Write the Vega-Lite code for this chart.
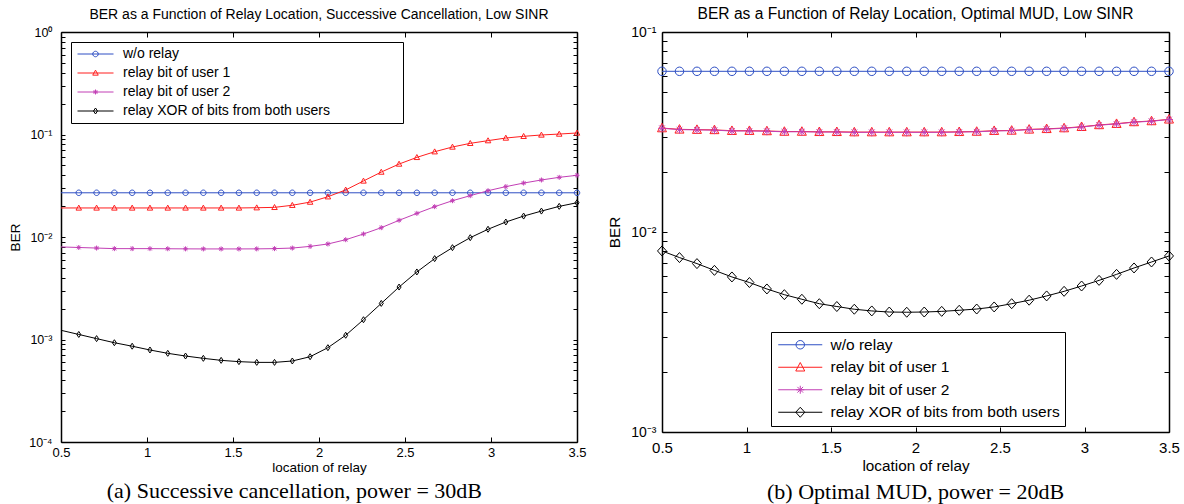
{
  "$schema": "https://vega.github.io/schema/vega-lite/v6.json",
  "background": "white",
  "padding": {"left": 8, "top": 7, "right": 5, "bottom": 0},
  "spacing": 20,
  "config": {
    "view": {"stroke": null},
    "axis": {"grid": false, "domainColor": "#000", "domainWidth": 1.5, "tickColor": "#000", "tickWidth": 1, "labelColor": "#000", "titleColor": "#000", "labelFont": "Liberation Sans", "titleFont": "Liberation Sans", "titleFontWeight": "normal", "labelFlush": false, "labelOverlap": false},
    "title": {"font": "Liberation Sans", "fontWeight": "normal", "color": "#000"}
  },
  "datasets": {
    "left": [
      {"series": "w/o relay", "x": 0.5, "ber": 0.027}, {"series": "w/o relay", "x": 0.6034, "ber": 0.027}, {"series": "w/o relay", "x": 0.7069, "ber": 0.027}, {"series": "w/o relay", "x": 0.8103, "ber": 0.027}, {"series": "w/o relay", "x": 0.9138, "ber": 0.027}, {"series": "w/o relay", "x": 1.0172, "ber": 0.027}, {"series": "w/o relay", "x": 1.1207, "ber": 0.027}, {"series": "w/o relay", "x": 1.2241, "ber": 0.027}, {"series": "w/o relay", "x": 1.3276, "ber": 0.027}, {"series": "w/o relay", "x": 1.431, "ber": 0.027}, {"series": "w/o relay", "x": 1.5345, "ber": 0.027}, {"series": "w/o relay", "x": 1.6379, "ber": 0.027}, {"series": "w/o relay", "x": 1.7414, "ber": 0.027}, {"series": "w/o relay", "x": 1.8448, "ber": 0.027}, {"series": "w/o relay", "x": 1.9483, "ber": 0.027}, {"series": "w/o relay", "x": 2.0517, "ber": 0.027}, {"series": "w/o relay", "x": 2.1552, "ber": 0.027}, {"series": "w/o relay", "x": 2.2586, "ber": 0.027}, {"series": "w/o relay", "x": 2.3621, "ber": 0.027}, {"series": "w/o relay", "x": 2.4655, "ber": 0.027}, {"series": "w/o relay", "x": 2.569, "ber": 0.027}, {"series": "w/o relay", "x": 2.6724, "ber": 0.027}, {"series": "w/o relay", "x": 2.7759, "ber": 0.027}, {"series": "w/o relay", "x": 2.8793, "ber": 0.027}, {"series": "w/o relay", "x": 2.9828, "ber": 0.027}, {"series": "w/o relay", "x": 3.0862, "ber": 0.027}, {"series": "w/o relay", "x": 3.1897, "ber": 0.027}, {"series": "w/o relay", "x": 3.2931, "ber": 0.027}, {"series": "w/o relay", "x": 3.3966, "ber": 0.027}, {"series": "w/o relay", "x": 3.5, "ber": 0.027},
      {"series": "relay bit of user 1", "x": 0.5, "ber": 0.0192}, {"series": "relay bit of user 1", "x": 0.6034, "ber": 0.0192}, {"series": "relay bit of user 1", "x": 0.7069, "ber": 0.0192}, {"series": "relay bit of user 1", "x": 0.8103, "ber": 0.0192}, {"series": "relay bit of user 1", "x": 0.9138, "ber": 0.0192}, {"series": "relay bit of user 1", "x": 1.0172, "ber": 0.0192}, {"series": "relay bit of user 1", "x": 1.1207, "ber": 0.0192}, {"series": "relay bit of user 1", "x": 1.2241, "ber": 0.0192}, {"series": "relay bit of user 1", "x": 1.3276, "ber": 0.0192}, {"series": "relay bit of user 1", "x": 1.431, "ber": 0.0192}, {"series": "relay bit of user 1", "x": 1.5345, "ber": 0.0192}, {"series": "relay bit of user 1", "x": 1.6379, "ber": 0.0193}, {"series": "relay bit of user 1", "x": 1.7414, "ber": 0.01946}, {"series": "relay bit of user 1", "x": 1.8448, "ber": 0.0204}, {"series": "relay bit of user 1", "x": 1.9483, "ber": 0.0219}, {"series": "relay bit of user 1", "x": 2.0517, "ber": 0.0247}, {"series": "relay bit of user 1", "x": 2.1552, "ber": 0.0288}, {"series": "relay bit of user 1", "x": 2.2586, "ber": 0.0352}, {"series": "relay bit of user 1", "x": 2.3621, "ber": 0.043}, {"series": "relay bit of user 1", "x": 2.4655, "ber": 0.0515}, {"series": "relay bit of user 1", "x": 2.569, "ber": 0.0598}, {"series": "relay bit of user 1", "x": 2.6724, "ber": 0.0679}, {"series": "relay bit of user 1", "x": 2.7759, "ber": 0.0755}, {"series": "relay bit of user 1", "x": 2.8793, "ber": 0.082}, {"series": "relay bit of user 1", "x": 2.9828, "ber": 0.0871}, {"series": "relay bit of user 1", "x": 3.0862, "ber": 0.0924}, {"series": "relay bit of user 1", "x": 3.1897, "ber": 0.096}, {"series": "relay bit of user 1", "x": 3.2931, "ber": 0.0989}, {"series": "relay bit of user 1", "x": 3.3966, "ber": 0.101}, {"series": "relay bit of user 1", "x": 3.5, "ber": 0.1035},
      {"series": "relay bit of user 2", "x": 0.5, "ber": 0.008}, {"series": "relay bit of user 2", "x": 0.6034, "ber": 0.0079}, {"series": "relay bit of user 2", "x": 0.7069, "ber": 0.0078}, {"series": "relay bit of user 2", "x": 0.8103, "ber": 0.0077}, {"series": "relay bit of user 2", "x": 0.9138, "ber": 0.0077}, {"series": "relay bit of user 2", "x": 1.0172, "ber": 0.0077}, {"series": "relay bit of user 2", "x": 1.1207, "ber": 0.00768}, {"series": "relay bit of user 2", "x": 1.2241, "ber": 0.00766}, {"series": "relay bit of user 2", "x": 1.3276, "ber": 0.00765}, {"series": "relay bit of user 2", "x": 1.431, "ber": 0.00765}, {"series": "relay bit of user 2", "x": 1.5345, "ber": 0.00765}, {"series": "relay bit of user 2", "x": 1.6379, "ber": 0.00766}, {"series": "relay bit of user 2", "x": 1.7414, "ber": 0.0077}, {"series": "relay bit of user 2", "x": 1.8448, "ber": 0.0078}, {"series": "relay bit of user 2", "x": 1.9483, "ber": 0.0081}, {"series": "relay bit of user 2", "x": 2.0517, "ber": 0.00855}, {"series": "relay bit of user 2", "x": 2.1552, "ber": 0.00941}, {"series": "relay bit of user 2", "x": 2.2586, "ber": 0.0107}, {"series": "relay bit of user 2", "x": 2.3621, "ber": 0.01233}, {"series": "relay bit of user 2", "x": 2.4655, "ber": 0.01455}, {"series": "relay bit of user 2", "x": 2.569, "ber": 0.017}, {"series": "relay bit of user 2", "x": 2.6724, "ber": 0.01977}, {"series": "relay bit of user 2", "x": 2.7759, "ber": 0.0226}, {"series": "relay bit of user 2", "x": 2.8793, "ber": 0.0253}, {"series": "relay bit of user 2", "x": 2.9828, "ber": 0.0283}, {"series": "relay bit of user 2", "x": 3.0862, "ber": 0.031}, {"series": "relay bit of user 2", "x": 3.1897, "ber": 0.0336}, {"series": "relay bit of user 2", "x": 3.2931, "ber": 0.036}, {"series": "relay bit of user 2", "x": 3.3966, "ber": 0.0382}, {"series": "relay bit of user 2", "x": 3.5, "ber": 0.04},
      {"series": "relay XOR of bits from both users", "x": 0.5, "ber": 0.00123}, {"series": "relay XOR of bits from both users", "x": 0.6034, "ber": 0.00112}, {"series": "relay XOR of bits from both users", "x": 0.7069, "ber": 0.00102}, {"series": "relay XOR of bits from both users", "x": 0.8103, "ber": 0.00093}, {"series": "relay XOR of bits from both users", "x": 0.9138, "ber": 0.00086}, {"series": "relay XOR of bits from both users", "x": 1.0172, "ber": 0.00079}, {"series": "relay XOR of bits from both users", "x": 1.1207, "ber": 0.000733}, {"series": "relay XOR of bits from both users", "x": 1.2241, "ber": 0.00069}, {"series": "relay XOR of bits from both users", "x": 1.3276, "ber": 0.000655}, {"series": "relay XOR of bits from both users", "x": 1.431, "ber": 0.000626}, {"series": "relay XOR of bits from both users", "x": 1.5345, "ber": 0.000608}, {"series": "relay XOR of bits from both users", "x": 1.6379, "ber": 0.000598}, {"series": "relay XOR of bits from both users", "x": 1.7414, "ber": 0.000598}, {"series": "relay XOR of bits from both users", "x": 1.8448, "ber": 0.000617}, {"series": "relay XOR of bits from both users", "x": 1.9483, "ber": 0.000679}, {"series": "relay XOR of bits from both users", "x": 2.0517, "ber": 0.000832}, {"series": "relay XOR of bits from both users", "x": 2.1552, "ber": 0.0011}, {"series": "relay XOR of bits from both users", "x": 2.2586, "ber": 0.00156}, {"series": "relay XOR of bits from both users", "x": 2.3621, "ber": 0.00225}, {"series": "relay XOR of bits from both users", "x": 2.4655, "ber": 0.00325}, {"series": "relay XOR of bits from both users", "x": 2.569, "ber": 0.00456}, {"series": "relay XOR of bits from both users", "x": 2.6724, "ber": 0.00615}, {"series": "relay XOR of bits from both users", "x": 2.7759, "ber": 0.00787}, {"series": "relay XOR of bits from both users", "x": 2.8793, "ber": 0.00985}, {"series": "relay XOR of bits from both users", "x": 2.9828, "ber": 0.0119}, {"series": "relay XOR of bits from both users", "x": 3.0862, "ber": 0.014}, {"series": "relay XOR of bits from both users", "x": 3.1897, "ber": 0.016}, {"series": "relay XOR of bits from both users", "x": 3.2931, "ber": 0.0179}, {"series": "relay XOR of bits from both users", "x": 3.3966, "ber": 0.0199}, {"series": "relay XOR of bits from both users", "x": 3.5, "ber": 0.0216}
    ],
    "right": [
      {"series": "w/o relay", "x": 0.5, "ber": 0.0636}, {"series": "w/o relay", "x": 0.6034, "ber": 0.0636}, {"series": "w/o relay", "x": 0.7069, "ber": 0.0636}, {"series": "w/o relay", "x": 0.8103, "ber": 0.0636}, {"series": "w/o relay", "x": 0.9138, "ber": 0.0636}, {"series": "w/o relay", "x": 1.0172, "ber": 0.0636}, {"series": "w/o relay", "x": 1.1207, "ber": 0.0636}, {"series": "w/o relay", "x": 1.2241, "ber": 0.0636}, {"series": "w/o relay", "x": 1.3276, "ber": 0.0636}, {"series": "w/o relay", "x": 1.431, "ber": 0.0636}, {"series": "w/o relay", "x": 1.5345, "ber": 0.0636}, {"series": "w/o relay", "x": 1.6379, "ber": 0.0636}, {"series": "w/o relay", "x": 1.7414, "ber": 0.0636}, {"series": "w/o relay", "x": 1.8448, "ber": 0.0636}, {"series": "w/o relay", "x": 1.9483, "ber": 0.0636}, {"series": "w/o relay", "x": 2.0517, "ber": 0.0636}, {"series": "w/o relay", "x": 2.1552, "ber": 0.0636}, {"series": "w/o relay", "x": 2.2586, "ber": 0.0636}, {"series": "w/o relay", "x": 2.3621, "ber": 0.0636}, {"series": "w/o relay", "x": 2.4655, "ber": 0.0636}, {"series": "w/o relay", "x": 2.569, "ber": 0.0636}, {"series": "w/o relay", "x": 2.6724, "ber": 0.0636}, {"series": "w/o relay", "x": 2.7759, "ber": 0.0636}, {"series": "w/o relay", "x": 2.8793, "ber": 0.0636}, {"series": "w/o relay", "x": 2.9828, "ber": 0.0636}, {"series": "w/o relay", "x": 3.0862, "ber": 0.0636}, {"series": "w/o relay", "x": 3.1897, "ber": 0.0636}, {"series": "w/o relay", "x": 3.2931, "ber": 0.0636}, {"series": "w/o relay", "x": 3.3966, "ber": 0.0636}, {"series": "w/o relay", "x": 3.5, "ber": 0.0636},
      {"series": "relay bit of user 1", "x": 0.5, "ber": 0.0331}, {"series": "relay bit of user 1", "x": 0.6034, "ber": 0.0326}, {"series": "relay bit of user 1", "x": 0.7069, "ber": 0.0325}, {"series": "relay bit of user 1", "x": 0.8103, "ber": 0.0324}, {"series": "relay bit of user 1", "x": 0.9138, "ber": 0.0321}, {"series": "relay bit of user 1", "x": 1.0172, "ber": 0.0321}, {"series": "relay bit of user 1", "x": 1.1207, "ber": 0.032}, {"series": "relay bit of user 1", "x": 1.2241, "ber": 0.0318}, {"series": "relay bit of user 1", "x": 1.3276, "ber": 0.0318}, {"series": "relay bit of user 1", "x": 1.431, "ber": 0.0317}, {"series": "relay bit of user 1", "x": 1.5345, "ber": 0.0317}, {"series": "relay bit of user 1", "x": 1.6379, "ber": 0.0316}, {"series": "relay bit of user 1", "x": 1.7414, "ber": 0.0316}, {"series": "relay bit of user 1", "x": 1.8448, "ber": 0.0316}, {"series": "relay bit of user 1", "x": 1.9483, "ber": 0.0316}, {"series": "relay bit of user 1", "x": 2.0517, "ber": 0.0316}, {"series": "relay bit of user 1", "x": 2.1552, "ber": 0.0316}, {"series": "relay bit of user 1", "x": 2.2586, "ber": 0.0317}, {"series": "relay bit of user 1", "x": 2.3621, "ber": 0.0318}, {"series": "relay bit of user 1", "x": 2.4655, "ber": 0.0321}, {"series": "relay bit of user 1", "x": 2.569, "ber": 0.0322}, {"series": "relay bit of user 1", "x": 2.6724, "ber": 0.0326}, {"series": "relay bit of user 1", "x": 2.7759, "ber": 0.0328}, {"series": "relay bit of user 1", "x": 2.8793, "ber": 0.0331}, {"series": "relay bit of user 1", "x": 2.9828, "ber": 0.0336}, {"series": "relay bit of user 1", "x": 3.0862, "ber": 0.0343}, {"series": "relay bit of user 1", "x": 3.1897, "ber": 0.0348}, {"series": "relay bit of user 1", "x": 3.2931, "ber": 0.0355}, {"series": "relay bit of user 1", "x": 3.3966, "ber": 0.0359}, {"series": "relay bit of user 1", "x": 3.5, "ber": 0.0366},
      {"series": "relay bit of user 2", "x": 0.5, "ber": 0.033}, {"series": "relay bit of user 2", "x": 0.6034, "ber": 0.0325}, {"series": "relay bit of user 2", "x": 0.7069, "ber": 0.0324}, {"series": "relay bit of user 2", "x": 0.8103, "ber": 0.0323}, {"series": "relay bit of user 2", "x": 0.9138, "ber": 0.032}, {"series": "relay bit of user 2", "x": 1.0172, "ber": 0.032}, {"series": "relay bit of user 2", "x": 1.1207, "ber": 0.0319}, {"series": "relay bit of user 2", "x": 1.2241, "ber": 0.0317}, {"series": "relay bit of user 2", "x": 1.3276, "ber": 0.0317}, {"series": "relay bit of user 2", "x": 1.431, "ber": 0.0316}, {"series": "relay bit of user 2", "x": 1.5345, "ber": 0.0316}, {"series": "relay bit of user 2", "x": 1.6379, "ber": 0.0315}, {"series": "relay bit of user 2", "x": 1.7414, "ber": 0.0315}, {"series": "relay bit of user 2", "x": 1.8448, "ber": 0.0315}, {"series": "relay bit of user 2", "x": 1.9483, "ber": 0.0315}, {"series": "relay bit of user 2", "x": 2.0517, "ber": 0.0315}, {"series": "relay bit of user 2", "x": 2.1552, "ber": 0.0315}, {"series": "relay bit of user 2", "x": 2.2586, "ber": 0.0316}, {"series": "relay bit of user 2", "x": 2.3621, "ber": 0.0317}, {"series": "relay bit of user 2", "x": 2.4655, "ber": 0.032}, {"series": "relay bit of user 2", "x": 2.569, "ber": 0.0321}, {"series": "relay bit of user 2", "x": 2.6724, "ber": 0.0325}, {"series": "relay bit of user 2", "x": 2.7759, "ber": 0.0327}, {"series": "relay bit of user 2", "x": 2.8793, "ber": 0.033}, {"series": "relay bit of user 2", "x": 2.9828, "ber": 0.0335}, {"series": "relay bit of user 2", "x": 3.0862, "ber": 0.0342}, {"series": "relay bit of user 2", "x": 3.1897, "ber": 0.0347}, {"series": "relay bit of user 2", "x": 3.2931, "ber": 0.0354}, {"series": "relay bit of user 2", "x": 3.3966, "ber": 0.0358}, {"series": "relay bit of user 2", "x": 3.5, "ber": 0.0365},
      {"series": "relay XOR of bits from both users", "x": 0.5, "ber": 0.00804}, {"series": "relay XOR of bits from both users", "x": 0.6034, "ber": 0.00745}, {"series": "relay XOR of bits from both users", "x": 0.7069, "ber": 0.00695}, {"series": "relay XOR of bits from both users", "x": 0.8103, "ber": 0.00643}, {"series": "relay XOR of bits from both users", "x": 0.9138, "ber": 0.00596}, {"series": "relay XOR of bits from both users", "x": 1.0172, "ber": 0.00559}, {"series": "relay XOR of bits from both users", "x": 1.1207, "ber": 0.00519}, {"series": "relay XOR of bits from both users", "x": 1.2241, "ber": 0.00486}, {"series": "relay XOR of bits from both users", "x": 1.3276, "ber": 0.00461}, {"series": "relay XOR of bits from both users", "x": 1.431, "ber": 0.00438}, {"series": "relay XOR of bits from both users", "x": 1.5345, "ber": 0.00424}, {"series": "relay XOR of bits from both users", "x": 1.6379, "ber": 0.00411}, {"series": "relay XOR of bits from both users", "x": 1.7414, "ber": 0.00403}, {"series": "relay XOR of bits from both users", "x": 1.8448, "ber": 0.00398}, {"series": "relay XOR of bits from both users", "x": 1.9483, "ber": 0.00397}, {"series": "relay XOR of bits from both users", "x": 2.0517, "ber": 0.00398}, {"series": "relay XOR of bits from both users", "x": 2.1552, "ber": 0.00401}, {"series": "relay XOR of bits from both users", "x": 2.2586, "ber": 0.00406}, {"series": "relay XOR of bits from both users", "x": 2.3621, "ber": 0.00412}, {"series": "relay XOR of bits from both users", "x": 2.4655, "ber": 0.00422}, {"series": "relay XOR of bits from both users", "x": 2.569, "ber": 0.00438}, {"series": "relay XOR of bits from both users", "x": 2.6724, "ber": 0.00456}, {"series": "relay XOR of bits from both users", "x": 2.7759, "ber": 0.00479}, {"series": "relay XOR of bits from both users", "x": 2.8793, "ber": 0.00505}, {"series": "relay XOR of bits from both users", "x": 2.9828, "ber": 0.00537}, {"series": "relay XOR of bits from both users", "x": 3.0862, "ber": 0.00573}, {"series": "relay XOR of bits from both users", "x": 3.1897, "ber": 0.00614}, {"series": "relay XOR of bits from both users", "x": 3.2931, "ber": 0.00661}, {"series": "relay XOR of bits from both users", "x": 3.3966, "ber": 0.00708}, {"series": "relay XOR of bits from both users", "x": 3.5, "ber": 0.00759}
    ]
  },
  "hconcat": [
    {
      "title": {"text": "(a)  Successive cancellation, power = 30dB", "orient": "bottom", "font": "Liberation Serif", "fontSize": 22, "offset": 7, "anchor": "middle", "dx": -3},
      "vconcat": [
        {
          "width": 516,
          "height": 410,
          "title": {"text": "BER as a Function of Relay Location, Successive Cancellation, Low SINR", "fontSize": 14, "frame": "group", "offset": 4},
          "data": {"name": "left"},
          "resolve": {"scale": {"color": "independent", "shape": "independent"}},
          "layer": [
            {
              "mark": {"type": "line", "strokeWidth": 1},
              "encoding": {
                "x": {"field": "x", "type": "quantitative", "scale": {"domain": [0.5, 3.5], "nice": false, "zero": false},
                  "axis": {"orient": "bottom", "values": [0.5, 1, 1.5, 2, 2.5, 3, 3.5], "format": ".1~f", "title": "location of relay", "tickSize": -5, "labelPadding": 9, "titlePadding": 1, "labelFontSize": 13, "titleFontSize": 13.5}},
                "y": {"field": "ber", "type": "quantitative", "scale": {"type": "log", "domain": [0.0001, 1], "nice": false},
                  "axis": {"orient": "left", "values": [0.0001, 0.0002, 0.0003, 0.0004, 0.0005, 0.0006, 0.0007, 0.0008, 0.0009, 0.001, 0.002, 0.003, 0.004, 0.005, 0.006, 0.007, 0.008, 0.009, 0.01, 0.02, 0.03, 0.04, 0.05, 0.06, 0.07, 0.08, 0.09, 0.1, 0.2, 0.3, 0.4, 0.5, 0.6, 0.7, 0.8, 0.9, 1],
                    "labelExpr": "datum.value == 1 ? '10⁰' : datum.value == 0.1 ? '10⁻¹' : datum.value == 0.01 ? '10⁻²' : datum.value == 0.001 ? '10⁻³' : datum.value == 0.0001 ? '10⁻⁴' : ''",
                    "title": "BER", "tickSize": -4, "labelPadding": 13, "titlePadding": 6, "labelFontSize": 12.5, "titleFontSize": 13.5}},
                "color": {"field": "series", "type": "nominal", "scale": {"domain": ["w/o relay", "relay bit of user 1", "relay bit of user 2", "relay XOR of bits from both users"], "range": ["#2e4fc4", "#ff1f1f", "#c23fb5", "#000000"]}, "legend": null}
              }
            },
            {
              "transform": [{"filter": "datum.x > 0.55"}],
              "mark": {"type": "point", "filled": false, "size": 36, "strokeWidth": 1, "opacity": 1},
              "encoding": {
                "x": {"field": "x", "type": "quantitative", "axis": {"orient": "top", "values": [0.5, 1, 1.5, 2, 2.5, 3, 3.5], "labels": false, "title": null, "tickSize": -5}},
                "y": {"field": "ber", "type": "quantitative", "axis": {"orient": "right", "values": [0.0001, 0.0002, 0.0003, 0.0004, 0.0005, 0.0006, 0.0007, 0.0008, 0.0009, 0.001, 0.002, 0.003, 0.004, 0.005, 0.006, 0.007, 0.008, 0.009, 0.01, 0.02, 0.03, 0.04, 0.05, 0.06, 0.07, 0.08, 0.09, 0.1, 0.2, 0.3, 0.4, 0.5, 0.6, 0.7, 0.8, 0.9, 1], "labels": false, "title": null, "tickSize": -4}},
                "color": {"field": "series", "type": "nominal", "scale": {"domain": ["w/o relay", "relay bit of user 1", "relay bit of user 2", "relay XOR of bits from both users"], "range": ["#2e4fc4", "#ff1f1f", "#c23fb5", "#000000"]}, "legend": null},
                "shape": {"field": "series", "type": "nominal",
                  "scale": {"domain": ["relay XOR of bits from both users", "relay bit of user 1", "relay bit of user 2", "w/o relay"], "range": ["M0,-1L0.67,0L0,1L-0.67,0Z", "M0,-0.95L0.92,0.72L-0.92,0.72Z", "M-0.83,0H0.83M0,-0.83V0.83M-0.6,-0.6L0.6,0.6M-0.6,0.6L0.6,-0.6", "M-0.92,0A0.92,0.92,0,1,0,0.92,0A0.92,0.92,0,1,0,-0.92,0Z"]},
                  "legend": null}
              }
            },
            {
              "transform": [{"filter": "false"}],
              "mark": {"type": "point", "filled": false, "size": 36, "strokeWidth": 1, "opacity": 1},
              "encoding": {
                "color": {"field": "series", "type": "nominal", "scale": {"domain": ["w/o relay", "relay bit of user 1", "relay bit of user 2", "relay XOR of bits from both users"], "range": ["#2e4fc4", "#ff1f1f", "#c23fb5", "#000000"]},
                  "legend": {"title": null, "orient": "top-left", "offset": 10, "padding": 5, "symbolSize": 36, "symbolStrokeWidth": 1, "symbolOpacity": 1, "symbolOffset": 12.5, "labelOffset": 20.5, "labelFontSize": 14, "labelFont": "Liberation Sans", "labelColor": "#000", "rowPadding": 5, "strokeColor": "#000", "fillColor": "#fff", "labelLimit": 400}},
                "shape": {"field": "series", "type": "nominal",
                  "scale": {"domain": ["w/o relay", "relay bit of user 1", "relay bit of user 2", "relay XOR of bits from both users"], "range": ["M-6,0H6M-0.92,0A0.92,0.92,0,1,0,0.92,0A0.92,0.92,0,1,0,-0.92,0ZM100,0", "M-6,0H6M0,-0.95L0.92,0.72L-0.92,0.72Z", "M-6,0H6M-0.83,0H0.83M0,-0.83V0.83M-0.6,-0.6L0.6,0.6M-0.6,0.6L0.6,-0.6", "M-6,0H6M0,-1L0.67,0L0,1L-0.67,0Z"]},
                  "legend": {"title": null, "orient": "top-left", "offset": 10, "padding": 5, "symbolSize": 36, "symbolStrokeWidth": 1, "symbolOpacity": 1, "symbolOffset": 12.5, "labelOffset": 20.5, "labelFontSize": 14, "labelFont": "Liberation Sans", "labelColor": "#000", "rowPadding": 5, "strokeColor": "#000", "fillColor": "#fff", "labelLimit": 400}}
              }
            }
          ]
        }
      ]
    },
    {
      "title": {"text": "(b)  Optimal MUD, power = 20dB", "orient": "bottom", "font": "Liberation Serif", "fontSize": 22, "offset": 8.5, "anchor": "middle", "dx": 22},
      "vconcat": [
        {
          "width": 507,
          "height": 400,
          "title": {"text": "BER as a Function of Relay Location, Optimal MUD, Low SINR", "fontSize": 15.6, "frame": "group", "offset": 2},
          "data": {"name": "right"},
          "resolve": {"scale": {"color": "independent", "shape": "independent"}},
          "layer": [
            {
              "mark": {"type": "line", "strokeWidth": 1},
              "encoding": {
                "x": {"field": "x", "type": "quantitative", "scale": {"domain": [0.5, 3.5], "nice": false, "zero": false},
                  "axis": {"orient": "bottom", "values": [0.5, 1, 1.5, 2, 2.5, 3, 3.5], "format": ".1~f", "title": "location of relay", "tickSize": -5, "labelPadding": 13.5, "titlePadding": 3, "labelFontSize": 15, "titleFontSize": 15.3}},
                "y": {"field": "ber", "type": "quantitative", "scale": {"type": "log", "domain": [0.001, 0.1], "nice": false},
                  "axis": {"orient": "left", "values": [0.001, 0.002, 0.003, 0.004, 0.005, 0.006, 0.007, 0.008, 0.009, 0.01, 0.02, 0.03, 0.04, 0.05, 0.06, 0.07, 0.08, 0.09, 0.1],
                    "labelExpr": "datum.value == 0.1 ? '10⁻¹' : datum.value == 0.01 ? '10⁻²' : datum.value == 0.001 ? '10⁻³' : ''",
                    "title": "BER", "tickSize": -5, "labelPadding": 11, "titlePadding": 8, "labelFontSize": 14, "titleFontSize": 15.3}},
                "color": {"field": "series", "type": "nominal", "scale": {"domain": ["w/o relay", "relay bit of user 1", "relay bit of user 2", "relay XOR of bits from both users"], "range": ["#2e4fc4", "#ff1f1f", "#c23fb5", "#000000"]}, "legend": null}
              }
            },
            {
              "mark": {"type": "point", "filled": false, "size": 100, "strokeWidth": 1, "opacity": 1},
              "encoding": {
                "x": {"field": "x", "type": "quantitative", "axis": {"orient": "top", "values": [0.5, 1, 1.5, 2, 2.5, 3, 3.5], "labels": false, "title": null, "tickSize": -5}},
                "y": {"field": "ber", "type": "quantitative", "axis": {"orient": "right", "values": [0.001, 0.002, 0.003, 0.004, 0.005, 0.006, 0.007, 0.008, 0.009, 0.01, 0.02, 0.03, 0.04, 0.05, 0.06, 0.07, 0.08, 0.09, 0.1], "labels": false, "title": null, "tickSize": -5}},
                "color": {"field": "series", "type": "nominal", "scale": {"domain": ["w/o relay", "relay bit of user 1", "relay bit of user 2", "relay XOR of bits from both users"], "range": ["#2e4fc4", "#ff1f1f", "#c23fb5", "#000000"]}, "legend": null},
                "shape": {"field": "series", "type": "nominal",
                  "scale": {"domain": ["relay XOR of bits from both users", "relay bit of user 1", "relay bit of user 2", "w/o relay"], "range": ["M0,-1L0.9,0L0,1L-0.9,0Z", "M0,-0.95L0.9,0.75L-0.9,0.75Z", "M-0.8,0H0.8M0,-0.8V0.8M-0.57,-0.57L0.57,0.57M-0.57,0.57L0.57,-0.57", "M-0.85,0A0.85,0.85,0,1,0,0.85,0A0.85,0.85,0,1,0,-0.85,0Z"]},
                  "legend": null}
              }
            },
            {
              "transform": [{"filter": "false"}],
              "mark": {"type": "point", "filled": false, "size": 100, "strokeWidth": 1, "opacity": 1},
              "encoding": {
                "color": {"field": "series", "type": "nominal", "scale": {"domain": ["w/o relay", "relay bit of user 1", "relay bit of user 2", "relay XOR of bits from both users"], "range": ["#2e4fc4", "#ff1f1f", "#c23fb5", "#000000"]},
                  "legend": {"title": null, "orient": "none", "legendX": 109, "legendY": 300, "padding": 5, "symbolSize": 100, "symbolStrokeWidth": 1, "symbolOpacity": 1, "symbolOffset": 16.5, "labelOffset": 22.5, "labelFontSize": 15.5, "labelFont": "Liberation Sans", "labelColor": "#000", "rowPadding": 5.5, "strokeColor": "#000", "fillColor": "#fff", "labelLimit": 400}},
                "shape": {"field": "series", "type": "nominal",
                  "scale": {"domain": ["w/o relay", "relay bit of user 1", "relay bit of user 2", "relay XOR of bits from both users"], "range": ["M-4.4,0H4.4M-0.85,0A0.85,0.85,0,1,0,0.85,0A0.85,0.85,0,1,0,-0.85,0Z", "M-4.4,0H4.4M0,-0.95L0.9,0.75L-0.9,0.75Z", "M-4.4,0H4.4M-0.8,0H0.8M0,-0.8V0.8M-0.57,-0.57L0.57,0.57M-0.57,0.57L0.57,-0.57", "M-4.4,0H4.4M0,-1L0.9,0L0,1L-0.9,0Z"]},
                  "legend": {"title": null, "orient": "none", "legendX": 109, "legendY": 300, "padding": 5, "symbolSize": 100, "symbolStrokeWidth": 1, "symbolOpacity": 1, "symbolOffset": 16.5, "labelOffset": 22.5, "labelFontSize": 15.5, "labelFont": "Liberation Sans", "labelColor": "#000", "rowPadding": 5.5, "strokeColor": "#000", "fillColor": "#fff", "labelLimit": 400}}
              }
            }
          ]
        }
      ]
    }
  ]
}
